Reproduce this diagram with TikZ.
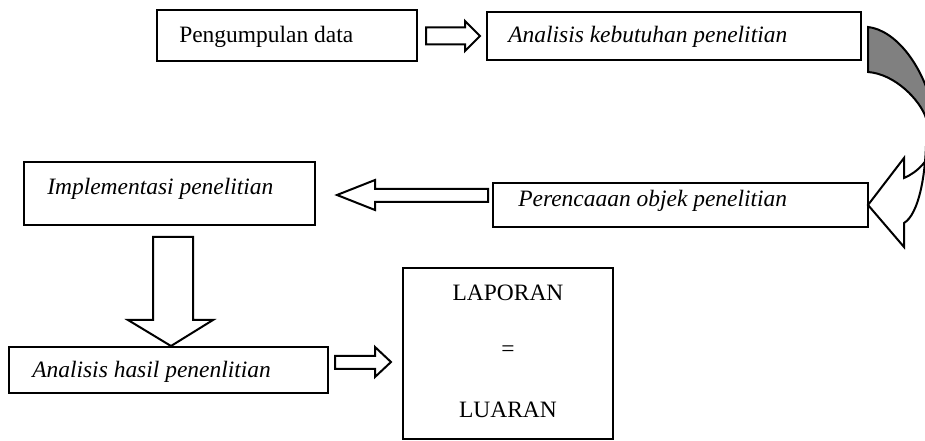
\documentclass[tikz,border=0pt]{standalone}
\usepackage{fontspec}
\setmainfont{Liberation Serif}
\begin{document}
\begin{tikzpicture}[x=0.75pt,y=-0.75pt,
  box/.style={draw, line width=1.5pt, inner sep=0pt, outer sep=0pt},
  txt/.style={font=\fontsize{17.6}{21}\selectfont, inner sep=0pt},
  itxt/.style={txt, font=\fontsize{17.6}{21}\selectfont\itshape},
  blockarrow/.style={draw, fill=white, line width=1.5pt, line join=miter},
  curvegrey/.style={fill=black!50, draw=black, line width=1.5pt},
  curvewhite/.style={fill=white, draw=black, line width=1.5pt, line join=miter}
]
\useasboundingbox (0,0) rectangle (925,441);

% boxes
\node[box, minimum width=195pt, minimum height=38.25pt] (b1) at (287,35.5) {};
\node[txt, anchor=base west] (t1) at (179,43) {Pengumpulan data};

\node[box, minimum width=280.5pt, minimum height=36pt] (b2) at (674,36) {};
\node[itxt, anchor=base west] (t2) at (508,43) {Analisis kebutuhan penelitian};

\node[box, minimum width=281.25pt, minimum height=33pt] (b3) at (680.5,205) {};
\node[itxt, anchor=base west] (t3) at (518,207) {Perencaaan objek penelitian};

\node[box, minimum width=218.25pt, minimum height=47.25pt] (b4) at (169.5,193.5) {};
\node[itxt, anchor=base west] (t4) at (47,195) {Implementasi penelitian};

\node[box, minimum width=239.25pt, minimum height=34.5pt] (b5) at (168.5,370) {};
\node[itxt, anchor=base west] (t5) at (32,378) {Analisis hasil penenlitian};

\node[box, minimum width=157.5pt, minimum height=128.25pt] (b6) at (508,353.5) {};
\node[txt, anchor=base] (t6a) at (508,301) {LAPORAN};
\node[txt] (t6b) at (508,351) {=};
\node[txt, anchor=base] (t6c) at (508,418) {LUARAN};

% block arrows
\path[blockarrow] (426,27.5) -- (465,27.5) -- (465,21) -- (480,36) -- (465,51)
  -- (465,44.5) -- (426,44.5) -- cycle;
\path[blockarrow] (488,189) -- (375,189) -- (375,180) -- (337,195) -- (375,210)
  -- (375,202) -- (488,202) -- cycle;
\path[blockarrow] (153,237) -- (193,237) -- (193,320) -- (213,320) -- (171,346)
  -- (128,320) -- (153,320) -- cycle;
\path[blockarrow] (335,356) -- (375,356) -- (375,347) -- (391,362) -- (375,377)
  -- (375,369) -- (335,369) -- cycle;

% curved arrow from box 2 to box 3
\begin{scope}
\clip (0,0) rectangle (925,441);
\path[curvegrey] (868,27) .. controls (895,30) and (925,65) .. (935,118) -- (935,125)
  -- (926,118) .. controls (920,100) and (895,74) .. (868,72) -- cycle;
\path[curvewhite] (926,118) .. controls (928,175) and (918,215) .. (904,223)
  -- (904,247) -- (b3.east) -- (904,158) -- (904,178)
  .. controls (918,172) and (930,160) .. (935,140) -- (945,140) -- (945,118) -- cycle;
\end{scope}
\end{tikzpicture}
\end{document}
